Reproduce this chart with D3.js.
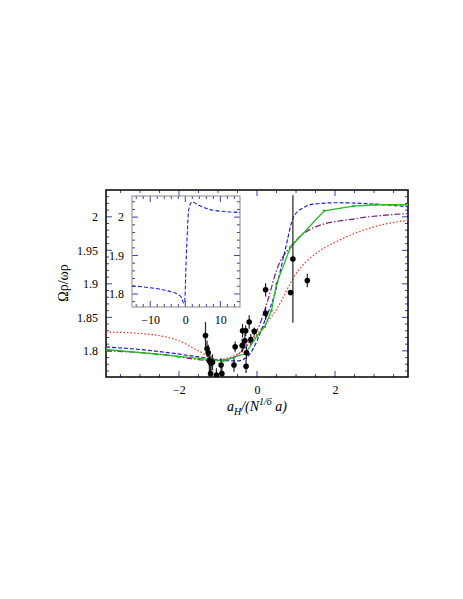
<!DOCTYPE html>
<html><head><meta charset="utf-8">
<script src="https://cdn.jsdelivr.net/npm/d3@7"></script>
<style>body{margin:0;background:#fff}svg text{font-family:'Liberation Serif','DejaVu Serif','Times New Roman',serif !important}</style>
</head><body><svg id="svg1" width="463" height="599"></svg>
<script>
// data
var expX = [-1.32,-1.28,-1.25,-1.22,-1.18,-1.14,-1.19,-1.04,-0.9,-0.92,-0.56,-0.59,-0.38,-0.37,-0.29,-0.2,-0.31,-0.27,-0.28,-0.16,-0.07,0.22,0.22,0.86,0.92,1.29];
var expY = [1.823,1.803,1.797,1.785,1.781,1.783,1.766,1.764,1.766,1.779,1.806,1.779,1.808,1.830,1.830,1.843,1.815,1.797,1.777,1.817,1.829,1.891,1.856,1.887,1.937,1.905];
var expErr = [0.02,0.012,0.012,0.015,0.012,0.012,0.01,0.01,0.01,0.01,0.008,0.01,0.01,0.01,0.008,0.01,0.01,0.01,0.01,0.008,0.006,0.01,0.01,0.004,0.095,0.01];
var blueX = [-3.87,-2.5,-1.5,-0.93,-0.5,-0.25,0,0.2,0.44,0.7,0.94,1.2,1.45,2.05,3,3.87];
var blueY = [1.806,1.799,1.791,1.786,1.785,1.791,1.815,1.845,1.882,1.945,2.0,2.014,2.019,2.021,2.019,2.015];
var greenX = [-3.87,-2.57,-0.86,-0.3,0,0.2,0.37,0.5,0.86,1.72,2.47,3.05,3.87];
var greenY = [1.802,1.795,1.785,1.796,1.822,1.836,1.86,1.9,1.955,2.009,2.016,2.018,2.018];
var purpleX = [-3.87,-2.5,-1.5,-1.1,-0.6,-0.25,0,0.3,0.5,0.9,1.5,2.5,3.87];
var purpleY = [1.800,1.795,1.787,1.785,1.79,1.81,1.83,1.88,1.92,1.958,1.985,1.997,2.005];
var redX = [-3.87,-3,-2,-1.5,-1,-0.5,0,0.5,1,1.5,2,3,3.87];
var redY = [1.828,1.826,1.815,1.8,1.787,1.795,1.825,1.862,1.915,1.945,1.962,1.985,1.995];
var insetX = [-15.2,-10,-5,-2,-1,-0.5,-0.2,0.3,1,1.9,3,5,8,12,15.6];
var insetY = [1.821,1.816,1.808,1.798,1.79,1.776,1.778,1.9,2.02,2.04,2.035,2.026,2.018,2.014,2.012];
var xTicks = [-2,0,2], yTicks = [1.8,1.85,1.9,1.95,2];
var inXTicks = [-10,0,10], inYTicks = [1.8,1.9,2];

var svg = d3.select("#svg1");
var x = d3.scaleLinear().domain([-3.87,3.87]).range([106,408]);
var y = d3.scaleLinear().domain([1.761,2.04]).range([377,190]);

function frame(g, x, y, xt, yt, xm, ym) {
  var x0 = x.range()[0], x1 = x.range()[1], y0 = y.range()[0], y1 = y.range()[1];
  g.append("g").attr("transform","translate(0,"+y0+")").call(d3.axisBottom(x).tickValues(xt).tickSize(0).tickPadding(8).tickFormat(d3.format("d")));
  g.append("g").attr("transform","translate("+x0+",0)").call(d3.axisLeft(y).tickValues(yt).tickSize(0).tickPadding(8).tickFormat(function(d){return d3.format("")(+d.toFixed(2));}));
  g.selectAll(".domain").remove();
  g.selectAll(".tick text").attr("font-size","12px");
  // minor blue ticks all sides
  var mx = d3.range(x.domain()[0] - x.domain()[0] % xm, x.domain()[1], xm);
  var my = d3.range(Math.ceil(y.domain()[0]/ym)*ym, y.domain()[1], ym);
  mx.forEach(function(v){
    var big = xt.some(function(t){return Math.abs(t-v)<1e-6;});
    var l = big ? 6 : 3;
    g.append("line").attr("x1",x(v)).attr("x2",x(v)).attr("y1",y0).attr("y2",y0-l).attr("stroke","#3344aa");
    g.append("line").attr("x1",x(v)).attr("x2",x(v)).attr("y1",y1).attr("y2",y1+l).attr("stroke","#3344aa");
  });
  my.forEach(function(v){
    var big = yt.some(function(t){return Math.abs(t-v)<1e-6;});
    var l = big ? 6 : 3;
    g.append("line").attr("y1",y(v)).attr("y2",y(v)).attr("x1",x0).attr("x2",x0+l).attr("stroke","#3344aa");
    g.append("line").attr("y1",y(v)).attr("y2",y(v)).attr("x1",x1).attr("x2",x1-l).attr("stroke","#3344aa");
  });
}

var main = svg.append("g");
frame(main, x, y, xTicks, yTicks, 0.5, 0.01);
main.append("rect").attr("x",106).attr("y",190).attr("width",302).attr("height",187).attr("fill","none").attr("stroke","#000").attr("stroke-width",1.5);

var clip = svg.append("clipPath").attr("id","c").append("rect").attr("x",106).attr("y",190).attr("width",302).attr("height",187);
var plot = svg.append("g").attr("clip-path","url(#c)");

function curve(xs, ys, color, dash, w) {
  var line = d3.line().x(function(d){return x(d[0]);}).y(function(d){return y(d[1]);});
  if (color !== "#22bb22") line.curve(d3.curveMonotoneX);
  plot.append("path").datum(d3.zip(xs, ys)).attr("d", line).attr("fill","none")
    .attr("stroke", color).attr("stroke-width", w).attr("stroke-dasharray", dash);
}
curve(redX, redY, "#e8301c", "1.5,2", 1.2);
curve(purpleX, purpleY, "#7a1f7a", "6,2,1.5,2", 1.2);
curve(blueX, blueY, "#1a22cc", "4,2", 1.2);
curve(greenX, greenY, "#22bb22", null, 1.3);
plot.selectAll(".gm").data(d3.zip(greenX, greenY)).enter().append("circle")
  .attr("cx", function(d){return x(d[0]);}).attr("cy", function(d){return y(d[1]);}).attr("r",1.3).attr("fill","#22bb22");

var pts = d3.zip(expX, expY, expErr);
plot.selectAll(".eb").data(pts).enter().append("line")
  .attr("x1", function(d){return x(d[0]);}).attr("x2", function(d){return x(d[0]);})
  .attr("y1", function(d){return y(d[1]-d[2]);}).attr("y2", function(d){return y(d[1]+d[2]);})
  .attr("stroke","#222").attr("stroke-width",1.2);
plot.selectAll(".pt").data(pts).enter().append("circle")
  .attr("cx", function(d){return x(d[0]);}).attr("cy", function(d){return y(d[1]);}).attr("r",2.8).attr("fill","#000");

// inset
var ix = d3.scaleLinear().domain([-15.2,15.6]).range([132,240]);
var iy = d3.scaleLinear().domain([1.766,2.055]).range([307,196]);
var ins = svg.append("g");
ins.append("rect").attr("x",132).attr("y",196).attr("width",108).attr("height",111).attr("fill","#fff");
frame(ins, ix, iy, inXTicks, inYTicks, 2, 0.02);
ins.append("rect").attr("x",132).attr("y",196).attr("width",108).attr("height",111).attr("fill","none").attr("stroke","#888").attr("stroke-width",1);
ins.append("path").datum(d3.zip(insetX, insetY))
  .attr("d", d3.line().x(function(d){return ix(d[0]);}).y(function(d){return iy(d[1]);}).curve(d3.curveMonotoneX))
  .attr("fill","none").attr("stroke","#1a22cc").attr("stroke-width",1.1).attr("stroke-dasharray","4,2");

// axis labels
svg.append("text").attr("transform","translate(68,283) rotate(-90)").attr("text-anchor","middle")
  .style("font-size","14px").text("Ωρ/ωρ");
var xl = svg.append("text").attr("x",257).attr("y",411).attr("text-anchor","middle").style("font-size","14px").style("font-style","italic");
xl.append("tspan").text("a");
xl.append("tspan").attr("dy",4).style("font-size","10px").text("H");
xl.append("tspan").attr("dy",-4).text("/(N");
xl.append("tspan").attr("dy",-6).style("font-size","10px").text("1/6");
xl.append("tspan").attr("dy",6).text(" a)");
</script></body></html>
